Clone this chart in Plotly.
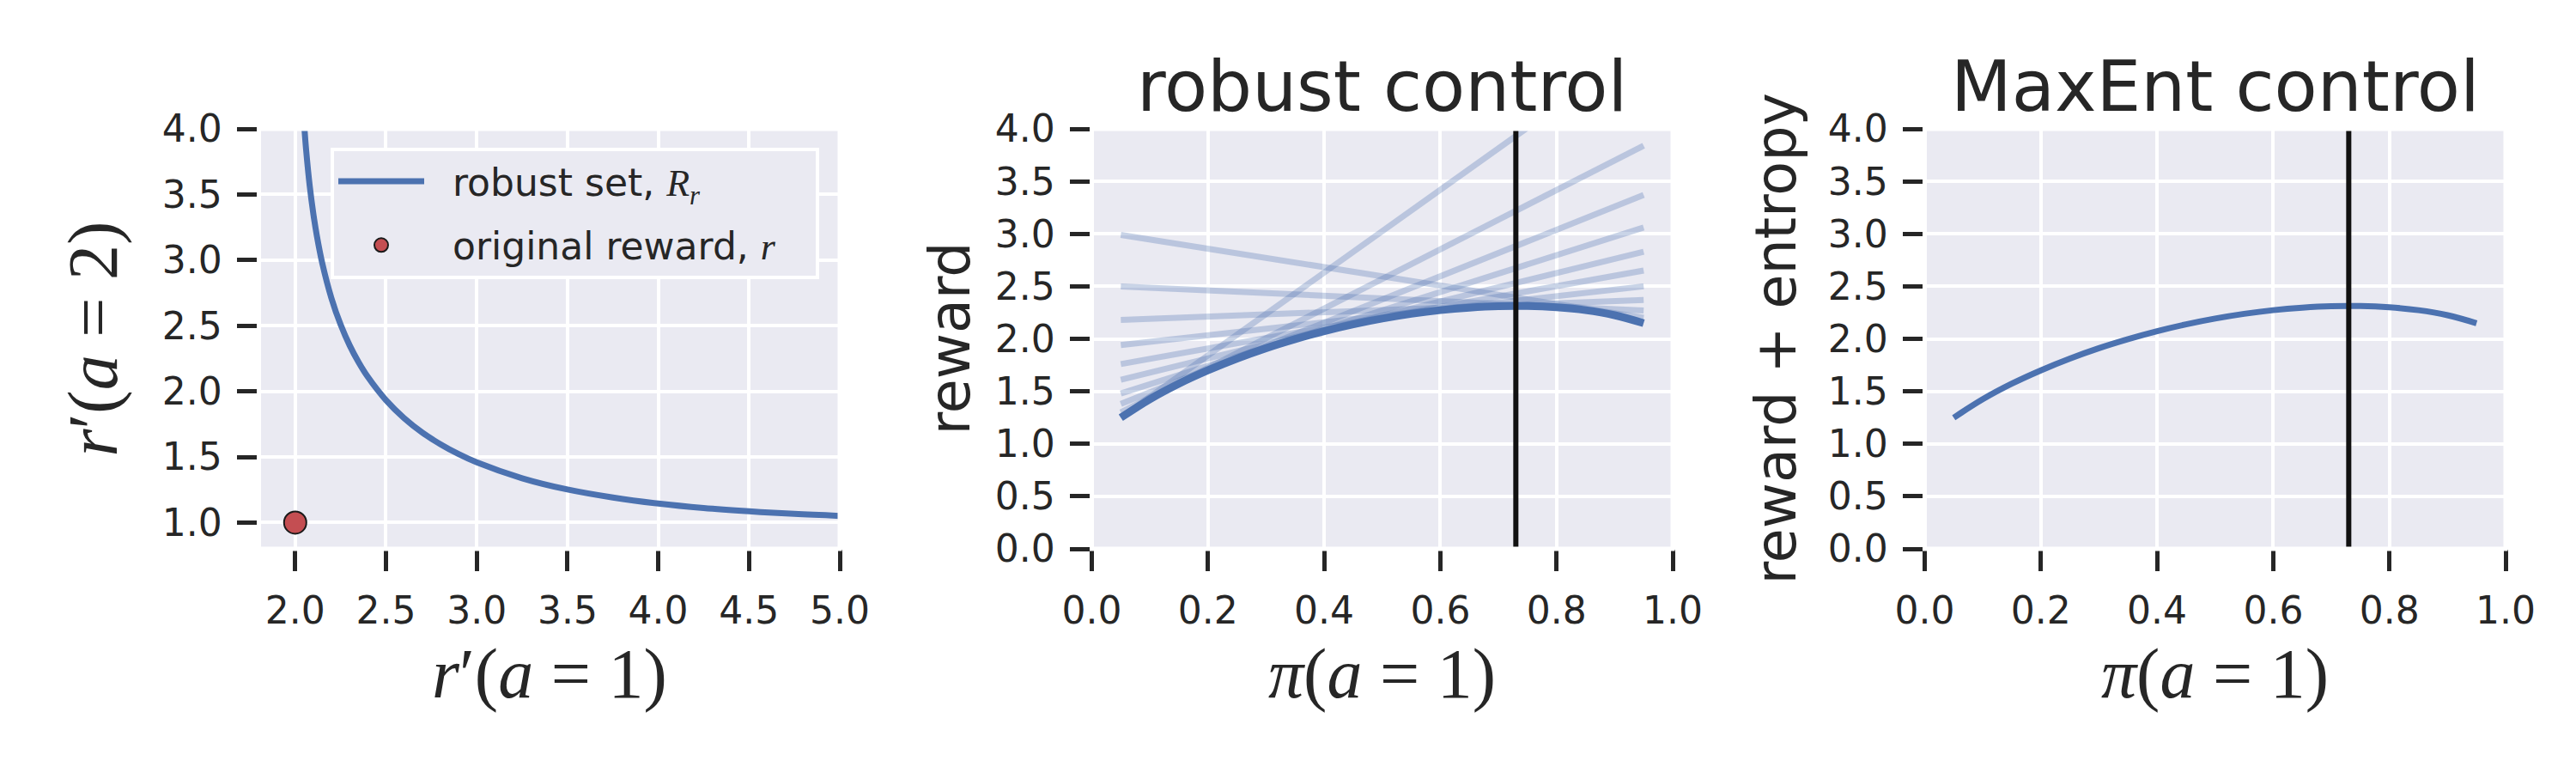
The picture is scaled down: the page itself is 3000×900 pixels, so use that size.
import plotly.graph_objects as go

BLUE = "#4C72B0"
RED = "#C44E52"
INK = "#262626"
BG = "#EAEAF2"

# panel 1: robust set of rewards around the original reward
robust_r1 = [2.05, 2.06, 2.08, 2.10, 2.12, 2.15, 2.20, 2.25, 2.30, 2.35, 2.40, 2.50, 2.60, 2.70,
             2.80, 2.90, 3.00, 3.25, 3.50, 3.75, 4.00, 4.25, 4.50, 4.75, 5.00]
robust_r2 = [4.021, 3.843, 3.565, 3.352, 3.180, 2.971, 2.708, 2.509, 2.350, 2.220, 2.110, 1.933,
             1.796, 1.686, 1.597, 1.522, 1.459, 1.338, 1.252, 1.191, 1.145, 1.111, 1.086, 1.066, 1.051]
orig_r1 = [2.0]
orig_r2 = [1.0]

# panels 2 and 3: value of each policy
pi_grid = [0.05, 0.10, 0.15, 0.20, 0.25, 0.30, 0.35, 0.40, 0.45, 0.50,
           0.55, 0.60, 0.65, 0.70, 0.75, 0.80, 0.85, 0.90, 0.95]
soft_value = [1.249, 1.425, 1.573, 1.700, 1.812, 1.911, 1.997, 2.073, 2.138, 2.193,
              2.238, 2.273, 2.297, 2.311, 2.312, 2.300, 2.273, 2.225, 2.149]

# expected reward of each robust reward, at pi = 0.05 and pi = 0.95
line_pi = [0.05, 0.95]
line_left = [1.25, 1.30, 1.38, 1.48, 1.61, 1.76, 1.94, 2.18, 2.50, 2.99]
line_right = [4.80, 3.84, 3.37, 3.06, 2.83, 2.65, 2.50, 2.37, 2.27, 2.20]
opt_pi = 0.73

W, H = 3000, 900
TOP, BOTTOM = 142, 631
LEFTS = [293.5, 1263.5, 2233.5]
WIDTH = 676.5

fig = go.Figure()

# panel 1
fig.add_trace(go.Scatter(x=robust_r1, y=robust_r2, mode="lines",
                         line=dict(color=BLUE, width=7, shape="spline"),
                         name="&nbsp;&nbsp;robust set, <span style=\"font-family:Liberation Serif\"><i>R<sub>r</sub></i></span>",
                         legendgroup="a", xaxis="x", yaxis="y"))
fig.add_trace(go.Scatter(x=orig_r1, y=orig_r2, mode="markers",
                         marker=dict(color=RED, size=26, line=dict(color="#1a1a1a", width=2)),
                         name="&nbsp;&nbsp;original reward, <span style=\"font-family:Liberation Serif\"><i>r</i></span>&nbsp;&nbsp;&nbsp;",
                         legendgroup="b", xaxis="x", yaxis="y"))

# panel 2
for left, right in zip(line_left, line_right):
    fig.add_trace(go.Scatter(x=line_pi, y=[left, right], mode="lines",
                             line=dict(color="rgba(76,114,176,0.3)", width=7),
                             showlegend=False, xaxis="x2", yaxis="y2"))
fig.add_trace(go.Scatter(x=pi_grid, y=soft_value, mode="lines",
                         line=dict(color=BLUE, width=9, shape="spline"),
                         showlegend=False, xaxis="x2", yaxis="y2"))
fig.add_trace(go.Scatter(x=[opt_pi, opt_pi], y=[0, 4], mode="lines", line=dict(color="#111111", width=6),
                         showlegend=False, xaxis="x2", yaxis="y2"))

# panel 3
fig.add_trace(go.Scatter(x=pi_grid, y=soft_value, mode="lines",
                         line=dict(color=BLUE, width=7, shape="spline"),
                         showlegend=False, xaxis="x3", yaxis="y3"))
fig.add_trace(go.Scatter(x=[opt_pi, opt_pi], y=[0, 4], mode="lines", line=dict(color="#111111", width=6),
                         showlegend=False, xaxis="x3", yaxis="y3"))

axis_style = dict(ticks="outside", ticklen=25, tickwidth=5, tickcolor=INK,
                  tickfont=dict(size=44, color=INK, family="DejaVu Sans"),
                  showgrid=True, gridcolor="white", gridwidth=4, zeroline=False,
                  showline=False, automargin=False, ticklabelstandoff=8)

ydom = [1 - BOTTOM / H, 1 - TOP / H]
layout = dict(width=W, height=H, margin=dict(l=0, r=0, t=0, b=0), autosize=False,
              paper_bgcolor="white", plot_bgcolor=BG,
              font=dict(family="DejaVu Sans", color=INK))
x_ranges = [[1.8, 5.0], [0, 1], [0, 1]]
y_ranges = [[0.8, 4.0], [0, 4], [0, 4]]
x_ticks = [[2.0, 2.5, 3.0, 3.5, 4.0, 4.5, 5.0], [0, 0.2, 0.4, 0.6, 0.8, 1.0], [0, 0.2, 0.4, 0.6, 0.8, 1.0]]
y_ticks = [[1.0, 1.5, 2.0, 2.5, 3.0, 3.5, 4.0], [0, 0.5, 1, 1.5, 2, 2.5, 3, 3.5, 4], [0, 0.5, 1, 1.5, 2, 2.5, 3, 3.5, 4]]
for i in range(3):
    sx = "" if i == 0 else str(i + 1)
    layout["xaxis" + sx] = dict(axis_style, domain=[LEFTS[i] / W, (LEFTS[i] + WIDTH) / W],
                                range=x_ranges[i], tickvals=x_ticks[i], tickformat=".1f",
                                anchor="y" + sx)
    layout["yaxis" + sx] = dict(axis_style, domain=ydom, range=y_ranges[i], tickvals=y_ticks[i],
                                tickformat=".1f", anchor="x" + sx)
fig.update_layout(**layout)

# white spines like seaborn darkgrid
for i in range(3):
    sx = "" if i == 0 else str(i + 1)
    fig.add_shape(type="rect", xref="x" + sx + " domain", yref="y" + sx + " domain",
                  x0=0, x1=1, y0=0, y1=1, line=dict(color="white", width=5), layer="above")

centers = [(l + WIDTH / 2) / W for l in LEFTS]
math_font = dict(family="Liberation Serif", size=82, color=INK)
ann = []
ann.append(dict(text="robust control", x=centers[1], y=1 - 93 / H, font=dict(size=82, color=INK)))
ann.append(dict(text="MaxEnt control", x=centers[2], y=1 - 93 / H, font=dict(size=82, color=INK)))
ann.append(dict(text="<i>r</i>′(<i>a</i> = 1)", x=centers[0], y=1 - 776 / H, font=math_font))
ann.append(dict(text="<i>π</i>(<i>a</i> = 1)", x=centers[1], y=1 - 776 / H, font=math_font))
ann.append(dict(text="<i>π</i>(<i>a</i> = 1)", x=centers[2], y=1 - 776 / H, font=math_font))
ann.append(dict(text="<i>r</i>′(<i>a</i> = 2)", x=100 / W, y=1 - 386.5 / H, font=math_font, textangle=-90))
ann.append(dict(text="reward", x=1098 / W, y=1 - 386.5 / H, font=dict(size=65, color=INK), textangle=-90))
ann.append(dict(text="reward + entropy", x=2060 / W, y=1 - 386.5 / H, font=dict(size=65, color=INK), textangle=-90))
for a in ann:
    a.update(xref="paper", yref="paper", xanchor="center", yanchor="middle", showarrow=False)
fig.update_layout(annotations=ann)

fig.update_layout(legend=dict(x=946 / W, xanchor="right", y=1 - 164 / H, yanchor="top",
                              bgcolor=BG, bordercolor="white", borderwidth=4,
                              font=dict(size=44, color=INK, family="DejaVu Sans"),
                              itemwidth=100, tracegroupgap=14))

fig.write_html("out.html")
